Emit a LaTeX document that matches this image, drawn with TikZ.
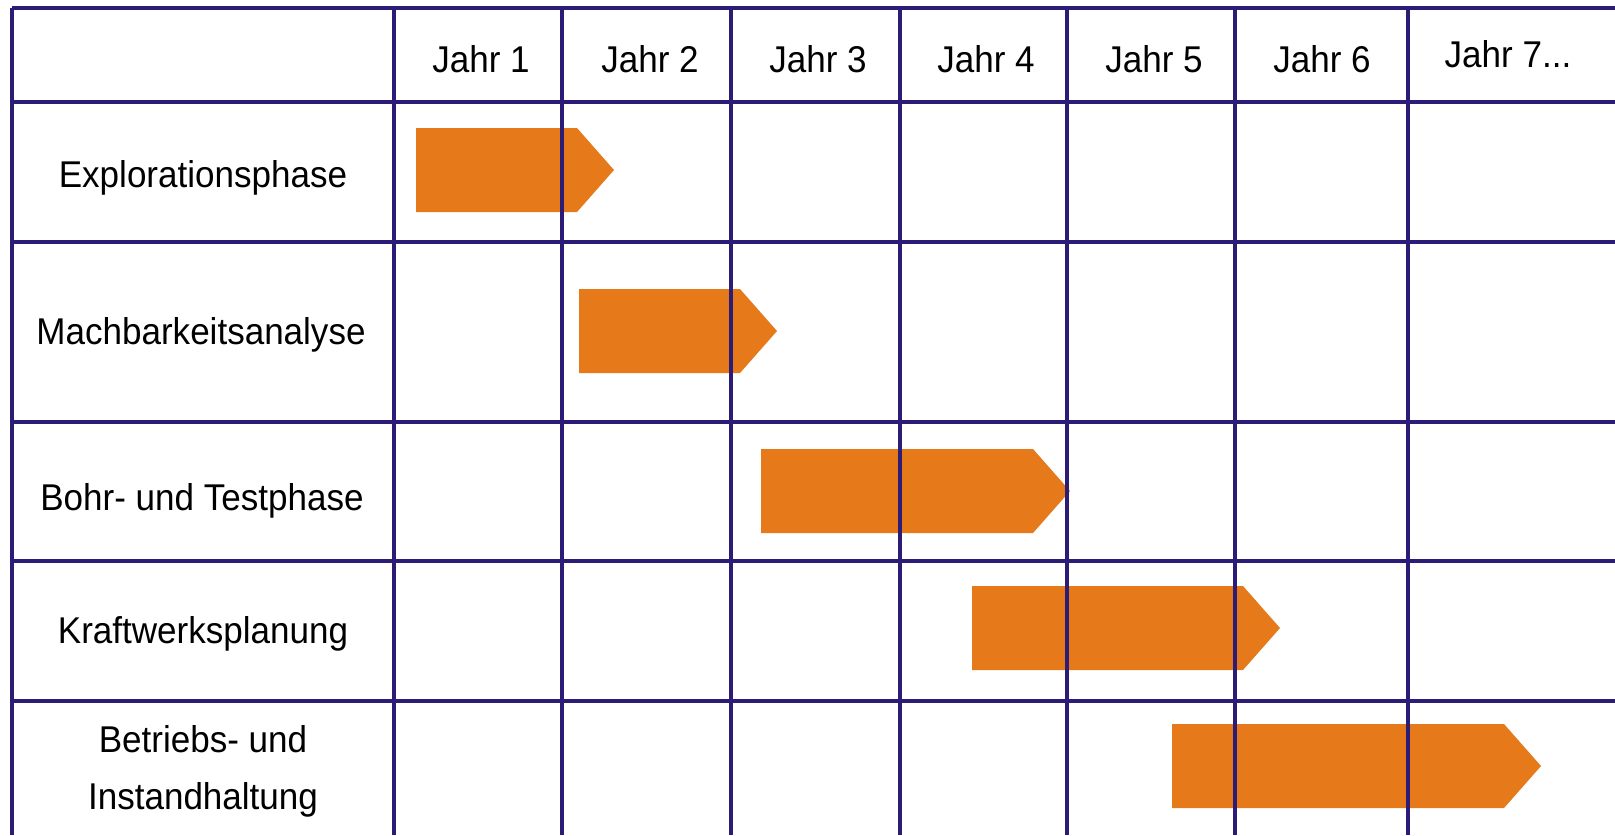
\documentclass[tikz,border=0pt]{standalone}
\usepackage{fontspec}
\setmainfont{Liberation Sans}[FakeStretch=0.94]
\usepackage{xcolor}
\usetikzlibrary{positioning}

\definecolor{gridblue}{RGB}{44,28,120}
\definecolor{phaseorange}{RGB}{230,122,26}

% one phase bar: start x, tip x, middle y
\newcommand{\phasebar}[3]{%
  \fill[phaseorange] (#1,#3-42) -- (#2-37,#3-42) -- (#2,#3) -- (#2-37,#3+42) -- (#1,#3+42) -- cycle;}

\begin{document}
\begin{tikzpicture}[x=0.01cm, y=-0.01cm,
    gridline/.style={draw=gridblue, line width=1pt},
    year/.style={font=\fontsize{10.6}{13}\selectfont},
    phase/.style={font=\fontsize{10.6}{16.2}\selectfont, align=center}]
  \useasboundingbox (0,0) rectangle (1615,835);
  \fill[white] (0,0) rectangle (1615,835);
  % bars
  \phasebar{416}{614}{170}
  \phasebar{579}{777}{331}
  \phasebar{761}{1070}{491}
  \phasebar{972}{1280}{628}
  \phasebar{1172}{1541}{766}
  % grid
  \foreach \y in {8,102,242,422,561,701}
    \draw[gridline] (12,\y) -- (1615,\y);
  \foreach \x in {12,394,562,731,900,1067,1235,1408}
    \draw[gridline] (\x,8) -- (\x,835);
  % header
  \node[year] (j1) at (481,59) {Jahr 1};
  \node[year] (j2) at (650,59) {Jahr 2};
  \node[year] (j3) at (818,59) {Jahr 3};
  \node[year] (j4) at (986,59) {Jahr 4};
  \node[year] (j5) at (1154,59) {Jahr 5};
  \node[year] (j6) at (1322,59) {Jahr 6};
  \node[year] (j7) at (1508,54) {Jahr 7...};
  % phases
  \node[phase] (explo) at (203,178) {Explorationsphase};
  \node[phase] (mach) at (201,335) {Machbarkeitsanalyse};
  \node[phase] (bohr) at (202,501) {Bohr- und Testphase};
  \node[phase] (kraft) at (203,634) {Kraftwerksplanung};
  \node[phase] (betr) at (203,771) {Betriebs- und\\Instandhaltung};
\end{tikzpicture}
\end{document}
